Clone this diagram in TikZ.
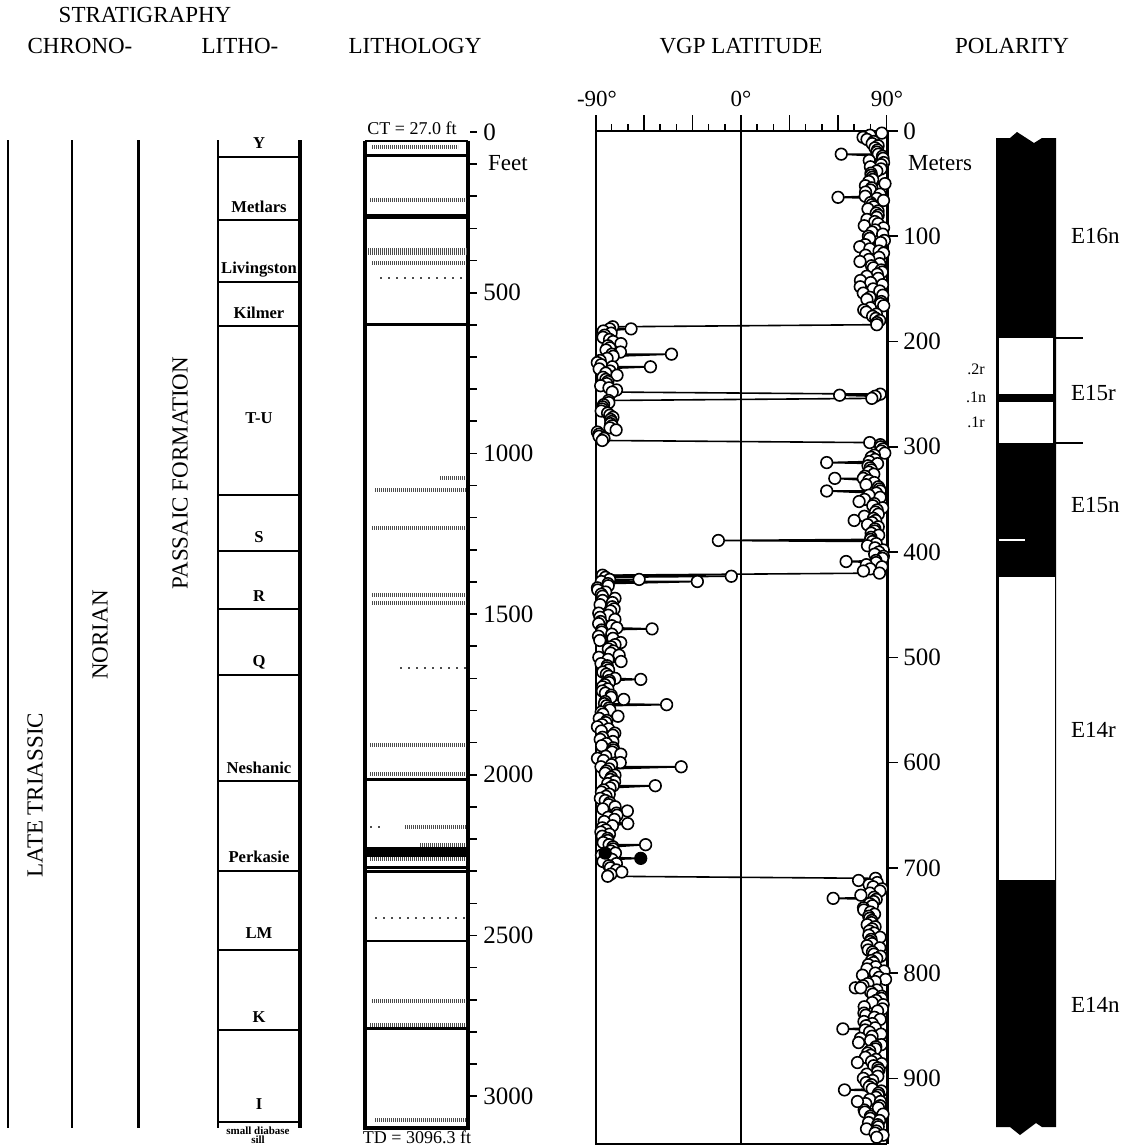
\documentclass[tikz,border=0pt]{standalone}
\usepackage{fontspec}
\setmainfont{Liberation Serif}
\usetikzlibrary{positioning}

\tikzset{
  head/.style={font=\fontsize{11.5}{13}\selectfont},
  member/.style={font=\bfseries\fontsize{8.3}{9}\selectfont},
  depth/.style={font=\fontsize{12.5}{14}\selectfont, anchor=west, inner sep=1pt},
  zone/.style={font=\fontsize{11.5}{13}\selectfont, anchor=west},
  sub/.style={font=\fontsize{8}{9}\selectfont},
  vgp/.style={circle, draw, fill=white, line width=0.8pt, inner sep=0pt, minimum size=5.8pt},
  bed/.style={line width=1.5pt},
  silt/.style={gray!60!black, line width=1.8pt, dash pattern=on 0.6pt off 0.4pt},
  sparse/.style={gray!60!black, line width=1.2pt, dash pattern=on 1pt off 3pt},
}

\begin{document}
\begin{tikzpicture}[x=0.5pt,y=-0.5pt]
\useasboundingbox (0,0) rectangle (1121,1146);

% headings
\node[head] (strat) at (145,15) {STRATIGRAPHY};
\node[head] (chrono) at (80,46) {CHRONO-};
\node[head] (litho) at (240,46) {LITHO-};
\node[head] (lithology) at (415,46) {LITHOLOGY};
\node[head] (vgplat) at (741,46) {VGP LATITUDE};
\node[head] (polarity) at (1012,46) {POLARITY};

% stratigraphy columns
\draw[line width=1pt] (8,140) -- (8,1128);
\draw[line width=1pt] (72,140) -- (72,1128);
\draw[line width=1.5pt] (138,140) -- (138,1128);
\node[head,rotate=90] (late) at (35,795) {LATE TRIASSIC};
\node[head,rotate=90] (norian) at (100,635) {NORIAN};
\node[head,rotate=90] (passaic) at (180,473) {PASSAIC FORMATION};

% members
\draw[line width=1pt] (218,140) -- (218,1128);
\draw[line width=2pt] (300,140) -- (300,1128);
\foreach \y in {157,220,282,326,495,551,609,675,781,871,950,1030,1122}
  \draw[line width=0.8pt] (218,\y) -- (300,\y);
\foreach \name/\y/\txt in {y/143/Y, metlars/207/Metlars, livingston/270/Livingston,
    kilmer/313/Kilmer, tu/418/T-U, s/537/S, r/596/R, q/662/Q, neshanic/768/Neshanic,
    perkasie/857/Perkasie, lm/933/LM, k/1017/K, i/1104/I}
  \node[member] (\name) at (259,\y) {\txt};
\node[font=\bfseries\fontsize{5.5}{4.5}\selectfont, align=center, inner sep=0pt] (sill) at (258,1135) {small diabase\\sill};

% lithology column
\draw[line width=0.6pt] (365,141) -- (468,141);
\draw[line width=2pt] (365,141) -- (365,1128) -- (468,1128) -- (468,141);
\node[font=\fontsize{9}{10}\selectfont] (ct) at (412,128) {CT = 27.0 ft};
\node[font=\fontsize{9}{10}\selectfont, inner sep=0.5pt] (td) at (417,1137) {TD = 3096.3 ft};
\foreach \f in {0,100,...,3000}
  \draw[line width=0.8pt] (470,{132+0.3214*\f}) -- (477,{132+0.3214*\f});
\foreach \f in {0,500,...,3000}
  \node[depth] (ft\f) at (481,{132+0.3214*\f}) {\f};
\node[zone] (feet) at (481,163) {Feet};
\foreach \y in {155,217,324,779,867,871,1028}
  \draw[bed] (366,\y) -- (467,\y);
\foreach \y in {215,941}
  \draw[line width=0.7pt] (366,\y) -- (467,\y);
\fill (366,847) rectangle (467,857);
\foreach \y/\a/\b in {147/372/458, 200/370/466, 250/368/467, 253/368/467, 263/372/466,
    478/440/466, 490/375/466, 528/372/466, 595/372/466, 603/372/466, 745/370/466,
    774/370/466, 827/405/466, 845/420/466, 859/370/466, 1001/372/466, 1025/370/466,
    1120/375/466}
  \draw[silt] (\a,\y) -- (\b,\y);
\foreach \y/\a/\b in {278/380/466, 668/400/466, 827/370/380, 918/375/466}
  \draw[sparse] (\a,\y) -- (\b,\y);

% VGP latitude frame
\draw[line width=1.2pt] (596,115) -- (596,1144) -- (887,1144);
\draw[line width=1.5pt] (887,1144) -- (887,131);
\draw[line width=1.2pt] (596,131) -- (898,131);
\draw[line width=0.7pt] (741,131) -- (741,1144);
\foreach \l in {-80,-70,...,80}
  \draw[line width=0.8pt] ({741+1.617*\l},131) -- ({741+1.617*\l},124);
\foreach \l in {-60,-30,0,30,60,90}
  \draw[line width=0.8pt] ({741+1.617*\l},131) -- ({741+1.617*\l},115);
\node[head] (m90) at (597,99) {-90°};
\node[head] (zero) at (741,99) {0°};
\node[head] (p90) at (887,99) {90°};
\foreach \m in {0,100,...,900}
  \draw[line width=0.8pt] (887,{131+1.0526*\m}) -- (898,{131+1.0526*\m});
\foreach \m in {0,100,...,900}
  \node[depth] (m\m) at (901,{131+1.0526*\m}) {\m};
\node[zone] (meters) at (901,163) {Meters};

% VGP data
\pgfmathsetseed{42}
\foreach \m [count=\i] in {2,4,...,956} {
  \pgfmathsetmacro\sgn{(\m<185 || (\m>249 && \m<256) || (\m>295 && \m<421) || \m>709) ? 1 : -1}
  \pgfmathsetmacro\lat{\sgn*(89.5-9*rnd-12*rnd*rnd)}
  \coordinate (v\i) at ({741+1.617*\lat},{131+1.0526*\m});
}
\def\outliers{22/62, 63/60, 188/-68, 212/-43, 224/-56, 251/61, 315/53, 330/58, 342/53,
  370/70, 389/-14, 409/65, 423/-6, 426/-63, 428/-27, 473/-55, 521/-62, 545/-46, 604/-37,
  622/-53, 678/-59, 729/57, 814/74, 853/63, 885/72, 911/64, 922/72}
\def\darkvgp{686/-84, 691/-62}
\draw[line width=0.8pt] (v1) \foreach \i in {2,...,478} { -- (v\i) };
\foreach \m/\lat [count=\n] in \outliers {
  \pgfmathtruncatemacro\j{(\m-2)/2+1}
  \pgfmathtruncatemacro\k{\j+1}
  \coordinate (o\n) at ({741+1.617*\lat},{131+1.0526*\m});
  \draw[line width=0.8pt] (v\j) -- (o\n) -- (v\k);
}
\foreach \m/\lat [count=\n] in \darkvgp {
  \pgfmathtruncatemacro\j{(\m-2)/2+1}
  \pgfmathtruncatemacro\k{\j+1}
  \coordinate (d\n) at ({741+1.617*\lat},{131+1.0526*\m});
  \draw[line width=0.8pt] (v\j) -- (d\n) -- (v\k);
}
\foreach \i in {1,...,478}
  \node[vgp] (c\i) at (v\i) {};
\foreach \m/\lat [count=\n] in \outliers
  \node[vgp] (co\n) at (o\n) {};
\foreach \m/\lat [count=\n] in \darkvgp
  \node[vgp, fill=black] (cd\n) at (d\n) {};

% polarity column
\fill (996,138) -- (1010,138) -- (1017,132) -- (1034,143) -- (1042,138) -- (1056,138)
  -- (1056,1127) -- (1042,1127) -- (1036,1123) -- (1020,1135) -- (1010,1127) -- (996,1127) -- cycle;
\fill[white] (999,338) rectangle (1053,394);
\fill[white] (999,402) rectangle (1053,443);
\fill[white] (998.5,577) rectangle (1054.5,880);
\draw[white, line width=1pt] (999,540) -- (1025,540);
\draw[line width=0.8pt] (1056,338) -- (1083,338);
\draw[line width=0.8pt] (1056,443) -- (1083,443);
\node[zone] (e16n) at (1064,236) {E16n};
\node[zone] (e15r) at (1064,393) {E15r};
\node[zone] (e15n) at (1064,505) {E15n};
\node[zone] (e14r) at (1064,730) {E14r};
\node[zone] (e14n) at (1064,1005) {E14n};
\node[sub] (r2) at (976,369) {.2r};
\node[sub] (n1) at (976,397) {.1n};
\node[sub] (r1) at (976,422) {.1r};
\end{tikzpicture}
\end{document}
